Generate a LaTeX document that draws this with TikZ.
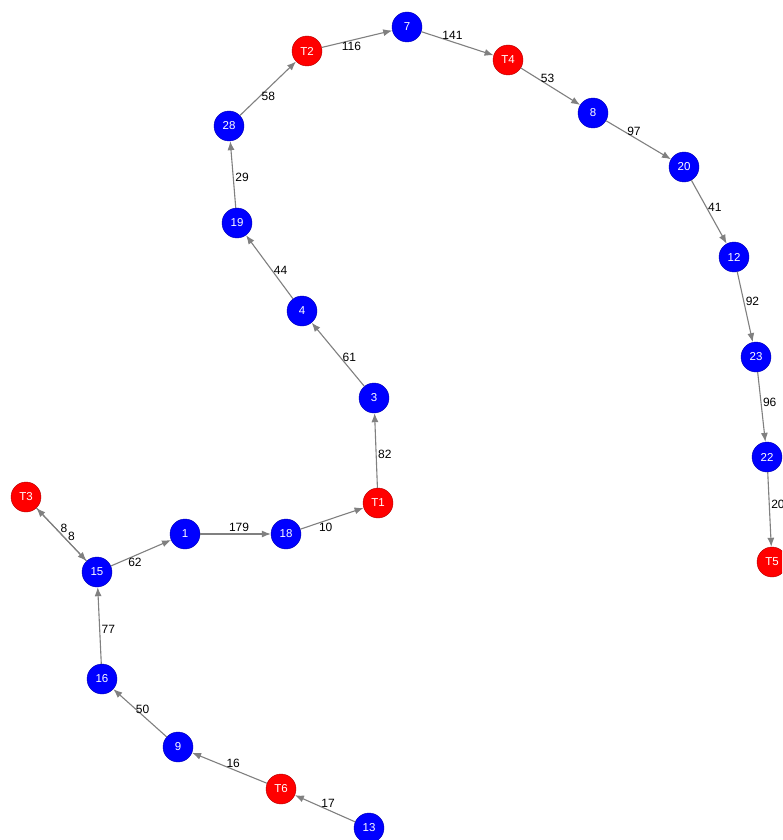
\documentclass[tikz,border=0pt]{standalone}
\usepackage{fontspec}
\setmainfont{Liberation Sans}
\usetikzlibrary{arrows.meta}

\tikzset{
    bnode/.style={circle, fill=blue, draw=blue!70!black, minimum size=30pt, inner sep=0pt, text=white, font=\fontsize{11.5}{13}\selectfont},
    rnode/.style={bnode, fill=red, draw=red!70!black},
    edge/.style={draw=gray, line width=1.1pt, -{Latex[length=9pt,width=7pt]}},
    lbl/.style={font=\fontsize{12}{14}\selectfont, inner sep=1.5pt}
}

\begin{document}
\begin{tikzpicture}[x=1pt, y=-1pt]
    \useasboundingbox (0,0) rectangle (782,840);
    \fill[white] (0,0) rectangle (782,840);
    \clip (0,0) rectangle (782,840);

    % Nodes, upper arc
    \node[rnode] (T2) at (307,51) {T2};
    \node[bnode] (n7) at (407,27) {7};
    \node[rnode] (T4) at (508,60) {T4};
    \node[bnode] (n8) at (593,113) {8};
    \node[bnode] (n20) at (684,167) {20};
    \node[bnode] (n12) at (734,257) {12};
    \node[bnode] (n23) at (756,357) {23};
    \node[bnode] (n22) at (767,457) {22};
    \node[rnode] (T5) at (772,562) {T5};

    % Nodes, middle chain
    \node[bnode] (n28) at (229,126) {28};
    \node[bnode] (n19) at (237,223) {19};
    \node[bnode] (n4) at (302,311) {4};
    \node[bnode] (n3) at (374,398) {3};
    \node[rnode] (T1) at (378,503) {T1};
    \node[bnode] (n18) at (286,534) {18};
    \node[bnode] (n1) at (185,534) {1};

    % Nodes, lower left
    \node[rnode] (T3) at (26,497) {T3};
    \node[bnode] (n15) at (97,572) {15};
    \node[bnode] (n16) at (102,679) {16};
    \node[bnode] (n9) at (178,747) {9};
    \node[rnode] (T6) at (281,789) {T6};
    \node[bnode] (n13) at (369,828) {13};

    % Edges
    \draw[edge] (T2) -- (n7) node[lbl, below, pos=.42] {116};
    \draw[edge] (n7) -- (T4) node[lbl, above, pos=.43] {141};
    \draw[edge] (T4) -- (n8) node[lbl, above, pos=.45] {53};
    \draw[edge] (n8) -- (n20) node[lbl, above, pos=.43] {97};
    \draw[edge] (n20) -- (n12) node[lbl, right, pos=.42] {41};
    \draw[edge] (n12) -- (n23) node[lbl, right, pos=.42] {92};
    \draw[edge] (n23) -- (n22) node[lbl, right, pos=.43] {96};
    \draw[edge] (n22) -- (T5) node[lbl, right, pos=.43] {20};

    \draw[edge] (n28) -- (T2) node[lbl, right, pos=.35] {58};
    \draw[edge] (n19) -- (n28) node[lbl, right, pos=.45] {29};
    \draw[edge] (n4) -- (n19) node[lbl, right, pos=.45] {44};
    \draw[edge] (n3) -- (n4) node[lbl, right, pos=.45] {61};
    \draw[edge] (T1) -- (n3) node[lbl, right, pos=.45] {82};
    \draw[edge] (n18) -- (T1) node[lbl, below, pos=.4] {10};
    \draw[edge] (n1) -- (n18) node[lbl, above, pos=.55] {179};
    \draw[edge] (n15) -- (n1) node[lbl, below, pos=.4] {62};

    \draw[edge] (T3) -- (n15) node[lbl, anchor=south west, inner sep=0pt, pos=.47] {8};
    \draw[edge] (n15) -- (T3) node[lbl, anchor=south west, inner sep=0pt, pos=.38] {8};
    \draw[edge] (n16) -- (n15) node[lbl, right, pos=.45] {77};
    \draw[edge] (n9) -- (n16) node[lbl, above, pos=.45] {50};
    \draw[edge] (T6) -- (n9) node[lbl, above, pos=.45] {16};
    \draw[edge] (n13) -- (T6) node[lbl, above, pos=.45] {17};
\end{tikzpicture}
\end{document}
